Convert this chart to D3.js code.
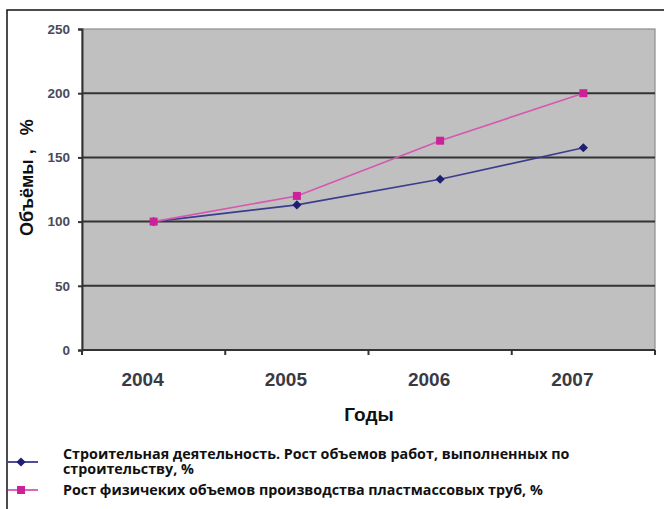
<!DOCTYPE html>
<html>
<head>
<meta charset="utf-8">
<script src="https://cdn.jsdelivr.net/npm/d3@7"></script>
<style>
  html, body { margin: 0; padding: 0; background: #fff; }
  svg { display: block; }
</style>
</head>
<body>
<svg id="chart" width="664" height="509"></svg>
<script>
// Годы и два ряда роста (2004 = 100 %)
const years = ["2004", "2005", "2006", "2007"];
const construction = [100, 113, 133, 157.5];
const pipes = [100, 120, 163, 200];
const yTicks = [0, 50, 100, 150, 200, 250];
const seriesNames = [
  ["Строительная деятельность. Рост объемов работ, выполненных по", "строительству, %"],
  ["Рост физичеких объемов производства пластмассовых труб, %"]
];
const seriesColors = [
  { line: "#3c3c8e", marker: "#1f1f72" },
  { line: "#d458b0", marker: "#cc2299" }
];

const svg = d3.select("#chart");
const plot = { left: 82, top: 29, right: 655, bottom: 350 };
const axisFont = "Liberation Sans, Arial, sans-serif";

// Внешняя рамка
svg.append("rect")
  .attr("x", 7).attr("y", 10)
  .attr("width", 700).attr("height", 540)
  .attr("fill", "none").attr("stroke", "#111").attr("stroke-width", 1.5);

const x = d3.scaleBand().domain(years).range([plot.left, plot.right]).padding(0);
const y = d3.scaleLinear().domain([0, 250]).range([plot.bottom, plot.top]);

// Область построения
svg.append("rect")
  .attr("x", plot.left).attr("y", plot.top)
  .attr("width", plot.right - plot.left).attr("height", plot.bottom - plot.top)
  .attr("fill", "#c0c0c0").attr("stroke", "#8c8c8c").attr("stroke-width", 1.2);

// Линии сетки
svg.append("g")
  .selectAll("line")
  .data(yTicks.filter(d => d > 0 && d < 250))
  .join("line")
  .attr("x1", plot.left).attr("x2", plot.right)
  .attr("y1", d => y(d)).attr("y2", d => y(d))
  .attr("stroke", "#333").attr("stroke-width", 2);

// Ось Y
const yAxis = svg.append("g")
  .attr("transform", `translate(${plot.left},0)`)
  .call(d3.axisLeft(y).tickValues(yTicks).tickSize(4).tickPadding(8));
yAxis.select(".domain").attr("stroke", "#333").attr("stroke-width", 2);
yAxis.selectAll(".tick line").attr("stroke", "#333").attr("stroke-width", 2);
yAxis.selectAll(".tick text")
  .attr("font-family", axisFont)
  .attr("font-size", 13.5).attr("font-weight", "bold").attr("fill", "#4a4a5a");

// Ось X: засечки на границах категорий
const xBounds = years.map(d => x(d)).concat([x.range()[1]]);
const xAxisG = svg.append("g");
xAxisG.append("line")
  .attr("x1", plot.left).attr("x2", plot.right)
  .attr("y1", plot.bottom).attr("y2", plot.bottom)
  .attr("stroke", "#333").attr("stroke-width", 2);
xAxisG.selectAll("line.tk")
  .data(xBounds)
  .join("line").attr("class", "tk")
  .attr("x1", d => d).attr("x2", d => d)
  .attr("y1", plot.bottom).attr("y2", plot.bottom + 5)
  .attr("stroke", "#333").attr("stroke-width", 2);
xAxisG.selectAll("text")
  .data(years)
  .join("text")
  .attr("x", d => x(d) + x.bandwidth() / 2 - 11)
  .attr("y", plot.bottom + 36)
  .attr("text-anchor", "middle")
  .attr("font-family", axisFont)
  .attr("font-size", 19).attr("font-weight", "bold").attr("fill", "#3a3a44")
  .text(d => d);

// Подписи осей
svg.append("text")
  .attr("x", 369).attr("y", 421)
  .attr("text-anchor", "middle")
  .attr("font-family", axisFont)
  .attr("font-size", 19).attr("font-weight", "bold").attr("fill", "#111")
  .text("Годы");
const yTitle = svg.append("text")
  .attr("transform", "translate(33,236) rotate(-90)")
  .attr("text-anchor", "start")
  .attr("font-family", axisFont)
  .attr("font-size", 18).attr("font-weight", "bold").attr("fill", "#111");
yTitle.append("tspan").text("Объёмы ,");
yTitle.append("tspan").attr("dx", 14).text("%");

// Ряды
const cx = d => x(d) + x.bandwidth() / 2;
const line = d3.line().x((d, i) => cx(years[i])).y(d => y(d));
const squarePath = d3.symbol().type(d3.symbolSquare).size(64)();
const diamondPath = d3.symbol().type(d3.symbolSquare).size(42)();
const marker = k => k === 0 ? diamondPath : squarePath;
const markerRot = k => k === 0 ? " rotate(45)" : "";

[construction, pipes].forEach((vals, k) => {
  svg.append("path")
    .attr("d", line(vals))
    .attr("fill", "none")
    .attr("stroke", seriesColors[k].line)
    .attr("stroke-width", 1.6);
  svg.append("g").selectAll("path")
    .data(vals)
    .join("path")
    .attr("transform", (d, i) => `translate(${cx(years[i])},${y(d)})${markerRot(k)}`)
    .attr("d", marker(k))
    .attr("fill", seriesColors[k].marker);
});

// Легенда
const legendY = [462, 490];
const legend = svg.append("g");
seriesNames.forEach((lines, k) => {
  legend.append("line")
    .attr("x1", 8).attr("x2", 38)
    .attr("y1", legendY[k]).attr("y2", legendY[k])
    .attr("stroke", seriesColors[k].line).attr("stroke-width", 1.8);
  legend.append("path")
    .attr("transform", `translate(21,${legendY[k]})${markerRot(k)}`)
    .attr("d", marker(k))
    .attr("fill", seriesColors[k].marker);
  const t = legend.append("text")
    .attr("x", 63)
    .attr("y", k === 0 ? 459 : 495)
    .attr("font-family", "Open Sans, sans-serif")
    .attr("font-size", 14.3).attr("font-weight", 700).attr("fill", "#111");
  lines.forEach((s, j) => {
    t.append("tspan").attr("x", 63).attr("dy", j === 0 ? 0 : 15).text(s);
  });
});
</script>
</body>
</html>
